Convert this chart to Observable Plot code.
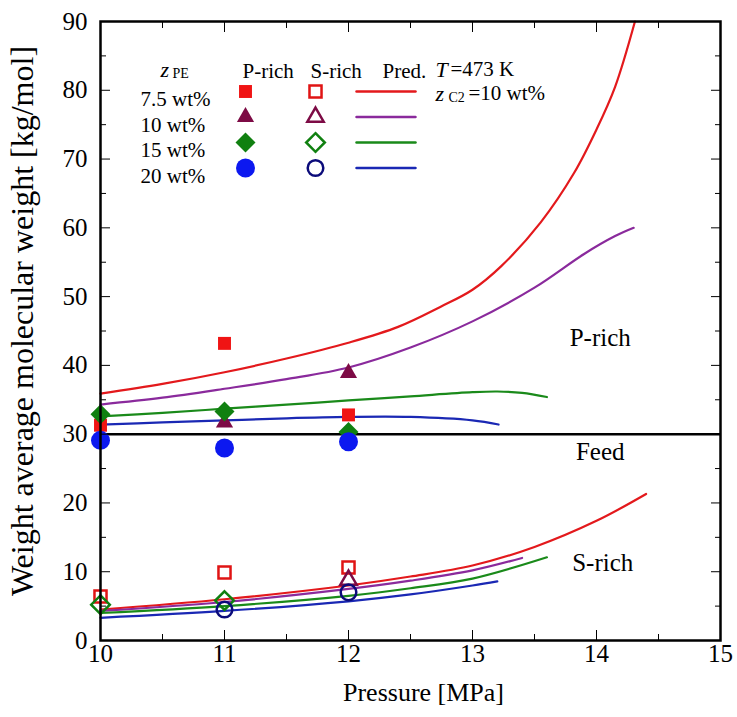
<!DOCTYPE html>
<html><head><meta charset="utf-8">
<script src="https://cdn.jsdelivr.net/npm/d3@7"></script>
<script src="https://cdn.jsdelivr.net/npm/@observablehq/plot@0.6"></script>
<style>body{margin:0;background:#fff}</style>
</head><body><div id="chart"></div>
<script>
// ---- data ----
const comps = ["7.5 wt%", "10 wt%", "15 wt%", "20 wt%"];
const markColors = ["#f01414", "#7d0b45", "#108010", "#0c18f0"];
const openColors = ["#e01414", "#7d0b45", "#108010", "#0b0b7a"];
const lineColors = ["#e3191c", "#8a2a9c", "#1a8a1a", "#1a28b4"];
const symbols = ["square", "triangle2", "diamond2", "circle"];

const xMajor = [10, 11, 12, 13, 14, 15];
const xMinor = [10.5, 11.5, 12.5, 13.5, 14.5];
const yMajor = [0, 10, 20, 30, 40, 50, 60, 70, 80, 90];
const yMinor = [5, 15, 25, 35, 45, 55, 65, 75, 85];
const feedLevel = [30];

// predictions (P-rich upper branches, S-rich lower branches)
const predP_x = [
  [10, 10.5, 11, 11.5, 12, 12.4, 12.74, 13, 13.23, 13.55, 13.82, 14.0, 14.15, 14.31],
  [10, 10.5, 11, 11.5, 12, 12.5, 13, 13.5, 13.9, 14.15, 14.3],
  [10, 10.5, 11, 11.5, 12, 12.5, 13, 13.2, 13.4, 13.6],
  [10, 10.5, 11, 11.5, 12, 12.5, 13, 13.21]
];
const predP_y = [
  [35.9, 37.3, 39.0, 41.0, 43.3, 45.6, 48.5, 51.0, 54.4, 60.8, 68.0, 74.3, 80.5, 90.0],
  [34.3, 35.3, 36.6, 38.0, 39.7, 42.6, 46.4, 51.3, 56.2, 58.8, 60.0],
  [32.6, 33.1, 33.7, 34.3, 34.9, 35.5, 36.1, 36.2, 36.0, 35.4],
  [31.4, 31.7, 32.0, 32.3, 32.5, 32.5, 32.0, 31.4]
];
const predS_x = [
  [10, 11, 12, 12.5, 13, 13.5, 14, 14.4],
  [10, 11, 12, 12.5, 13, 13.4],
  [10, 11, 12, 12.5, 13, 13.6],
  [10, 11, 12, 12.5, 13, 13.2]
];
const predS_y = [
  [4.5, 6.0, 8.0, 9.3, 10.9, 13.6, 17.4, 21.3],
  [4.3, 5.6, 7.5, 8.7, 10.2, 12.0],
  [4.0, 5.0, 6.5, 7.6, 9.0, 12.1],
  [3.3, 4.3, 5.7, 6.7, 8.0, 8.6]
];

// experiments
const expP_x = [[10, 11, 12], [11, 12], [10, 11, 12], [10, 11, 12]];
const expP_y = [[31.3, 43.2, 32.8], [31.7, 38.9], [32.9, 33.3, 30.3], [29.1, 28.0, 28.9]];
const expS_x = [[10, 11, 12], [12], [10, 11], [11, 12]];
const expS_y = [[6.4, 9.9, 10.6], [8.8], [5.2, 5.8], [4.5, 7.0]];

const annotations = [
  {text: "P-rich", x: 14.03, y: 44.0},
  {text: "Feed", x: 14.03, y: 27.4},
  {text: "S-rich", x: 14.05, y: 11.2}
];

// ---- build tables ----
const lines = [];
comps.forEach((c, i) => {
  predP_x[i].forEach((x, j) => lines.push({comp: c, phase: "P", key: c + "P", x, y: predP_y[i][j], color: lineColors[i]}));
  predS_x[i].forEach((x, j) => lines.push({comp: c, phase: "S", key: c + "S", x, y: predS_y[i][j], color: lineColors[i]}));
});
const rFilled = [7.3, 8.2, 9, 9.5];
const rOpen = [6.8, 7.8, 8.4, 7.8];

const font = "'Liberation Serif', 'Times New Roman', 'DejaVu Serif', serif";
const lineShape = {draw(ctx, l) { ctx.moveTo(0, 0); ctx.lineTo(0, -l); }};
const T = {fontFamily: font, fill: "black"};

const marks = [
  Plot.ruleY(feedLevel, {stroke: "black", strokeWidth: 2.5}),
  Plot.line(lines, {x: "x", y: "y", z: "key", stroke: d => d.color, strokeWidth: 2.2, curve: "catmull-rom"}),
];
comps.forEach((c, i) => {
  const s = expS_x[i].map((x, j) => ({x, y: expS_y[i][j]}));
  marks.push(Plot.dot(s, {x: "x", y: "y", symbol: symbols[i], r: rOpen[i], fill: "none", stroke: openColors[i], strokeWidth: 2.5}));
});
comps.forEach((c, i) => {
  const p = expP_x[i].map((x, j) => ({x, y: expP_y[i][j]}));
  marks.push(Plot.dot(p, {x: "x", y: "y", symbol: symbols[i], r: rFilled[i], fill: markColors[i], stroke: "none"}));
});

// axes with inward ticks
marks.push(
  Plot.axisX({ticks: xMajor, tickSize: -10, tickPadding: 14, fontSize: 25, fontFamily: font, tickFormat: d => d, label: null}),
  Plot.axisX({ticks: xMinor, tickSize: -6, tickFormat: () => "", label: null}),
  Plot.axisX({anchor: "top", ticks: xMajor, tickSize: -10, tickFormat: () => "", label: null}),
  Plot.axisX({anchor: "top", ticks: xMinor, tickSize: -6, tickFormat: () => "", label: null}),
  Plot.axisY({ticks: yMajor, tickSize: -10, tickPadding: 23, fontSize: 25, fontFamily: font, tickFormat: d => d, label: null}),
  Plot.axisY({ticks: yMinor, tickSize: -6, tickFormat: () => "", label: null}),
  Plot.axisY({anchor: "right", ticks: yMajor, tickSize: -10, tickFormat: () => "", label: null}),
  Plot.axisY({anchor: "right", ticks: yMinor, tickSize: -6, tickFormat: () => "", label: null}),
  Plot.frame({stroke: "black", strokeWidth: 2.5}),
  Plot.text(["Pressure [MPa]"], {...T, frameAnchor: "bottom", dx: 13, dy: 60, fontSize: 26}),
  Plot.text(["Weight average molecular weight [kg/mol]"], {...T, frameAnchor: "left", textAnchor: "middle", rotate: -90, dx: -78, dy: -10, fontSize: 32}),
  Plot.text(annotations, {...T, x: "x", y: "y", text: "text", fontSize: 25})
);

// legend
const legHead = [
  {t: "P-rich", dx: 142}, {t: "S-rich", dx: 210}, {t: "Pred.", dx: 282}
];
legHead.forEach(h => marks.push(Plot.text([h.t], {...T, frameAnchor: "top-left", dx: h.dx, dy: 42, fontSize: 21})));
marks.push(
  Plot.text(["z"], {...T, frameAnchor: "top-left", dx: 60, dy: 40, fontSize: 22, fontStyle: "italic", textAnchor: "start"}),
  Plot.text(["PE"], {...T, frameAnchor: "top-left", dx: 72, dy: 47, fontSize: 14, textAnchor: "start"}),
  Plot.text(["T"], {...T, frameAnchor: "top-left", dx: 335, dy: 40, fontSize: 22, fontStyle: "italic", textAnchor: "start"}),
  Plot.text(["=473 K"], {...T, frameAnchor: "top-left", dx: 350, dy: 40, fontSize: 21, textAnchor: "start"}),
  Plot.text(["z"], {...T, frameAnchor: "top-left", dx: 335, dy: 64, fontSize: 22, fontStyle: "italic", textAnchor: "start"}),
  Plot.text(["C2"], {...T, frameAnchor: "top-left", dx: 348, dy: 71, fontSize: 14, textAnchor: "start"}),
  Plot.text(["=10 wt%"], {...T, frameAnchor: "top-left", dx: 368, dy: 64, fontSize: 21, textAnchor: "start"})
);
comps.forEach((c, i) => {
  const dy = 70 + 25.5 * i;
  marks.push(
    Plot.text([c], {...T, frameAnchor: "top-left", dx: 40, dy, fontSize: 21, textAnchor: "start"}),
    Plot.dot([c], {frameAnchor: "top-left", dx: 145, dy, symbol: symbols[i], r: rFilled[i], fill: markColors[i], stroke: "none"}),
    Plot.dot([c], {frameAnchor: "top-left", dx: 215, dy, symbol: symbols[i], r: rOpen[i], fill: "none", stroke: openColors[i], strokeWidth: 2.5}),
    Plot.vector([c], {frameAnchor: "top-left", dx: 256, dy, length: 59, rotate: 90, anchor: "start", shape: lineShape, stroke: lineColors[i], strokeWidth: 2.5})
  );
});

const chart = Plot.plot({
  width: 737,
  height: 717,
  marginLeft: 100, marginRight: 17, marginTop: 21, marginBottom: 77,
  style: {fontFamily: font, background: "#fff", color: "black"},
  x: {domain: [10, 15]},
  y: {domain: [0, 90]},
  marks
});
document.getElementById("chart").appendChild(chart);
</script></body></html>
